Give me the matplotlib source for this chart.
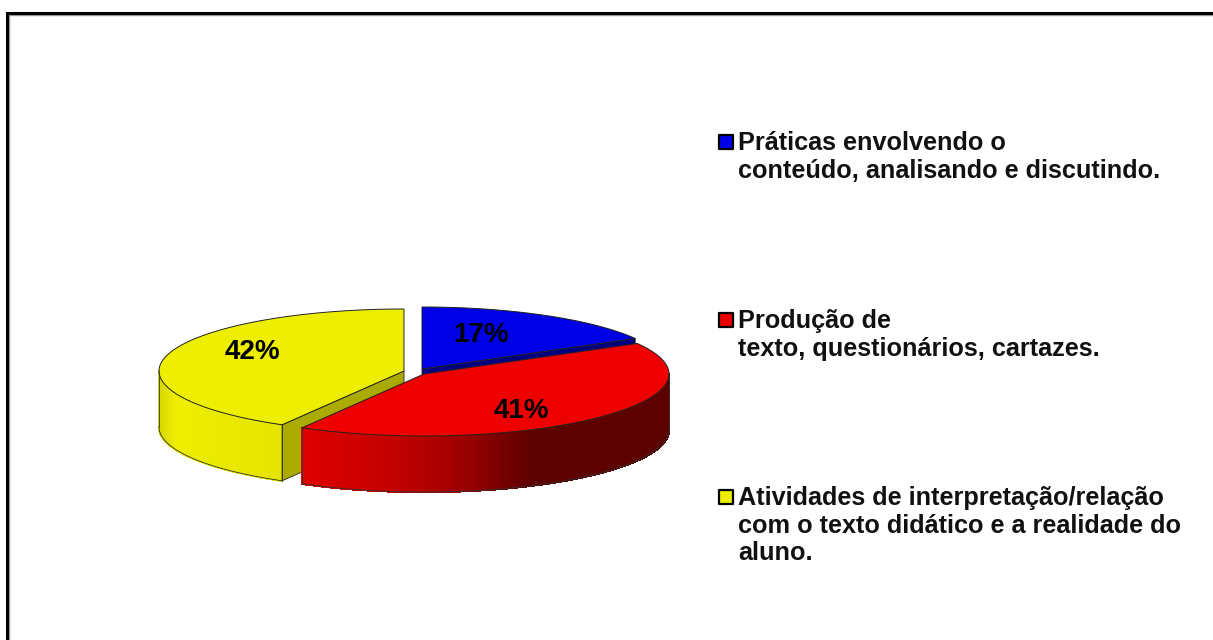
import numpy as np
import matplotlib
matplotlib.use("Agg")
import matplotlib.pyplot as plt
from matplotlib.collections import PolyCollection
from matplotlib.colors import to_rgb

categories = [
    "Práticas envolvendo o\nconteúdo, analisando e discutindo.",
    "Produção de\ntexto, questionários, cartazes.",
    "Atividades de interpretação/relação\ncom o texto didático e a realidade do\naluno.",
]
values = [16.8, 41.49, 41.71]

top_colors = ["#0000e6", "#ee0000", "#eeee00"]
face_colors = ["#000080", "#a00000", "#aaaa00"]
centers = [(422, 369), (424, 374), (404, 371)]
legend_y = [142, 320, 497]
label_pos = [(481, 335), (521, 411), (252, 352)]

RX, RY, DEPTH = 245, 62, 56
FONT = "Liberation Sans"

plt.rcParams["font.family"] = [FONT, "DejaVu Sans"]
fig = plt.figure(figsize=(12.13, 6.40), dpi=100)
ax = fig.add_axes([0, 0, 1, 1])
ax.set_xlim(0, 1213)
ax.set_ylim(640, 0)
ax.axis("off")

# frame, only top and left are in the picture
ax.plot([9, 9, 1213], [640, 15, 15], color="#999999", lw=1.0, solid_joinstyle="miter")
ax.plot([7, 7, 1213], [640, 13, 13], color="black", lw=2.2, solid_joinstyle="miter")


def rim(center, t):
    # t runs clockwise from the top of the pie
    return center[0] + RX * np.sin(t), center[1] - RY * np.cos(t)


def red_side(x):
    stops_x = [302, 400, 450, 533, 670]
    stops = np.array([to_rgb(c) for c in ["#e00000", "#c00000", "#a50000", "#5c0000", "#5c0000"]])
    return [np.interp(x, stops_x, stops[:, i]) for i in range(3)]


def yellow_side(x):
    stops_x = [159, 175, 282]
    stops = np.array([to_rgb(c) for c in ["#d8d800", "#eeee00", "#e4e400"]])
    return [np.interp(x, stops_x, stops[:, i]) for i in range(3)]


def draw_side(center, t0, t1, shade):
    ts = np.linspace(t0, t1, 90)
    quads, cols = [], []
    for a, b in zip(ts[:-1], ts[1:]):
        xa, ya = rim(center, a)
        xb, yb = rim(center, b)
        quads.append([(xa, ya), (xb, yb), (xb, yb + DEPTH), (xa, ya + DEPTH)])
        cols.append(shade((xa + xb) / 2))
    ax.add_collection(PolyCollection(quads, facecolors=cols, edgecolors=cols,
                                     linewidths=1.0, antialiased=False))
    # outline of the side
    xs, ys = rim(center, ts)
    ax.plot(xs, ys + DEPTH, color="#333333", lw=0.6)
    for t in (t0, t1):
        x, y = rim(center, t)
        ax.plot([x, x], [y, y + DEPTH], color="#333333", lw=0.6)


def draw_cut(center, t, color):
    x, y = rim(center, t)
    cx, cy = center
    ax.fill([cx, x, x, cx], [cy, y, y + DEPTH, cy + DEPTH], facecolor=color,
            edgecolor="#222222", lw=0.6)


def draw_top(center, t0, t1, color):
    ts = np.linspace(t0, t1, 200)
    xs, ys = rim(center, ts)
    ax.fill(np.r_[center[0], xs], np.r_[center[1], ys], facecolor=color,
            edgecolor="#222222", lw=0.7)


edges = np.cumsum([0] + values) / sum(values) * 2 * np.pi

# back to front: yellow, blue, then red over both
draw_side(centers[2], edges[2], 1.5 * np.pi, yellow_side)
draw_cut(centers[2], edges[2], face_colors[2])
draw_top(centers[2], edges[2], edges[3], top_colors[2])

draw_cut(centers[0], edges[1], face_colors[0])
draw_top(centers[0], edges[0], edges[1], top_colors[0])

draw_side(centers[1], 0.5 * np.pi, edges[2], red_side)
draw_top(centers[1], edges[1], edges[2], top_colors[1])

for v, pos in zip(values, label_pos):
    ax.text(pos[0], pos[1], f"{round(v)}%", fontsize=20, fontweight="bold",
            ha="center", va="center", color="black")

for cat, col, y in zip(categories, top_colors, legend_y):
    ax.scatter([726], [y], s=100, marker="s", facecolor=col, edgecolor="black", linewidths=1.6)
    ax.text(738, y - 11, cat, fontsize=18.2, fontweight="bold", ha="left", va="top",
            linespacing=1.19, color="#111111")

fig.savefig("out.png", dpi=100, facecolor="white")
